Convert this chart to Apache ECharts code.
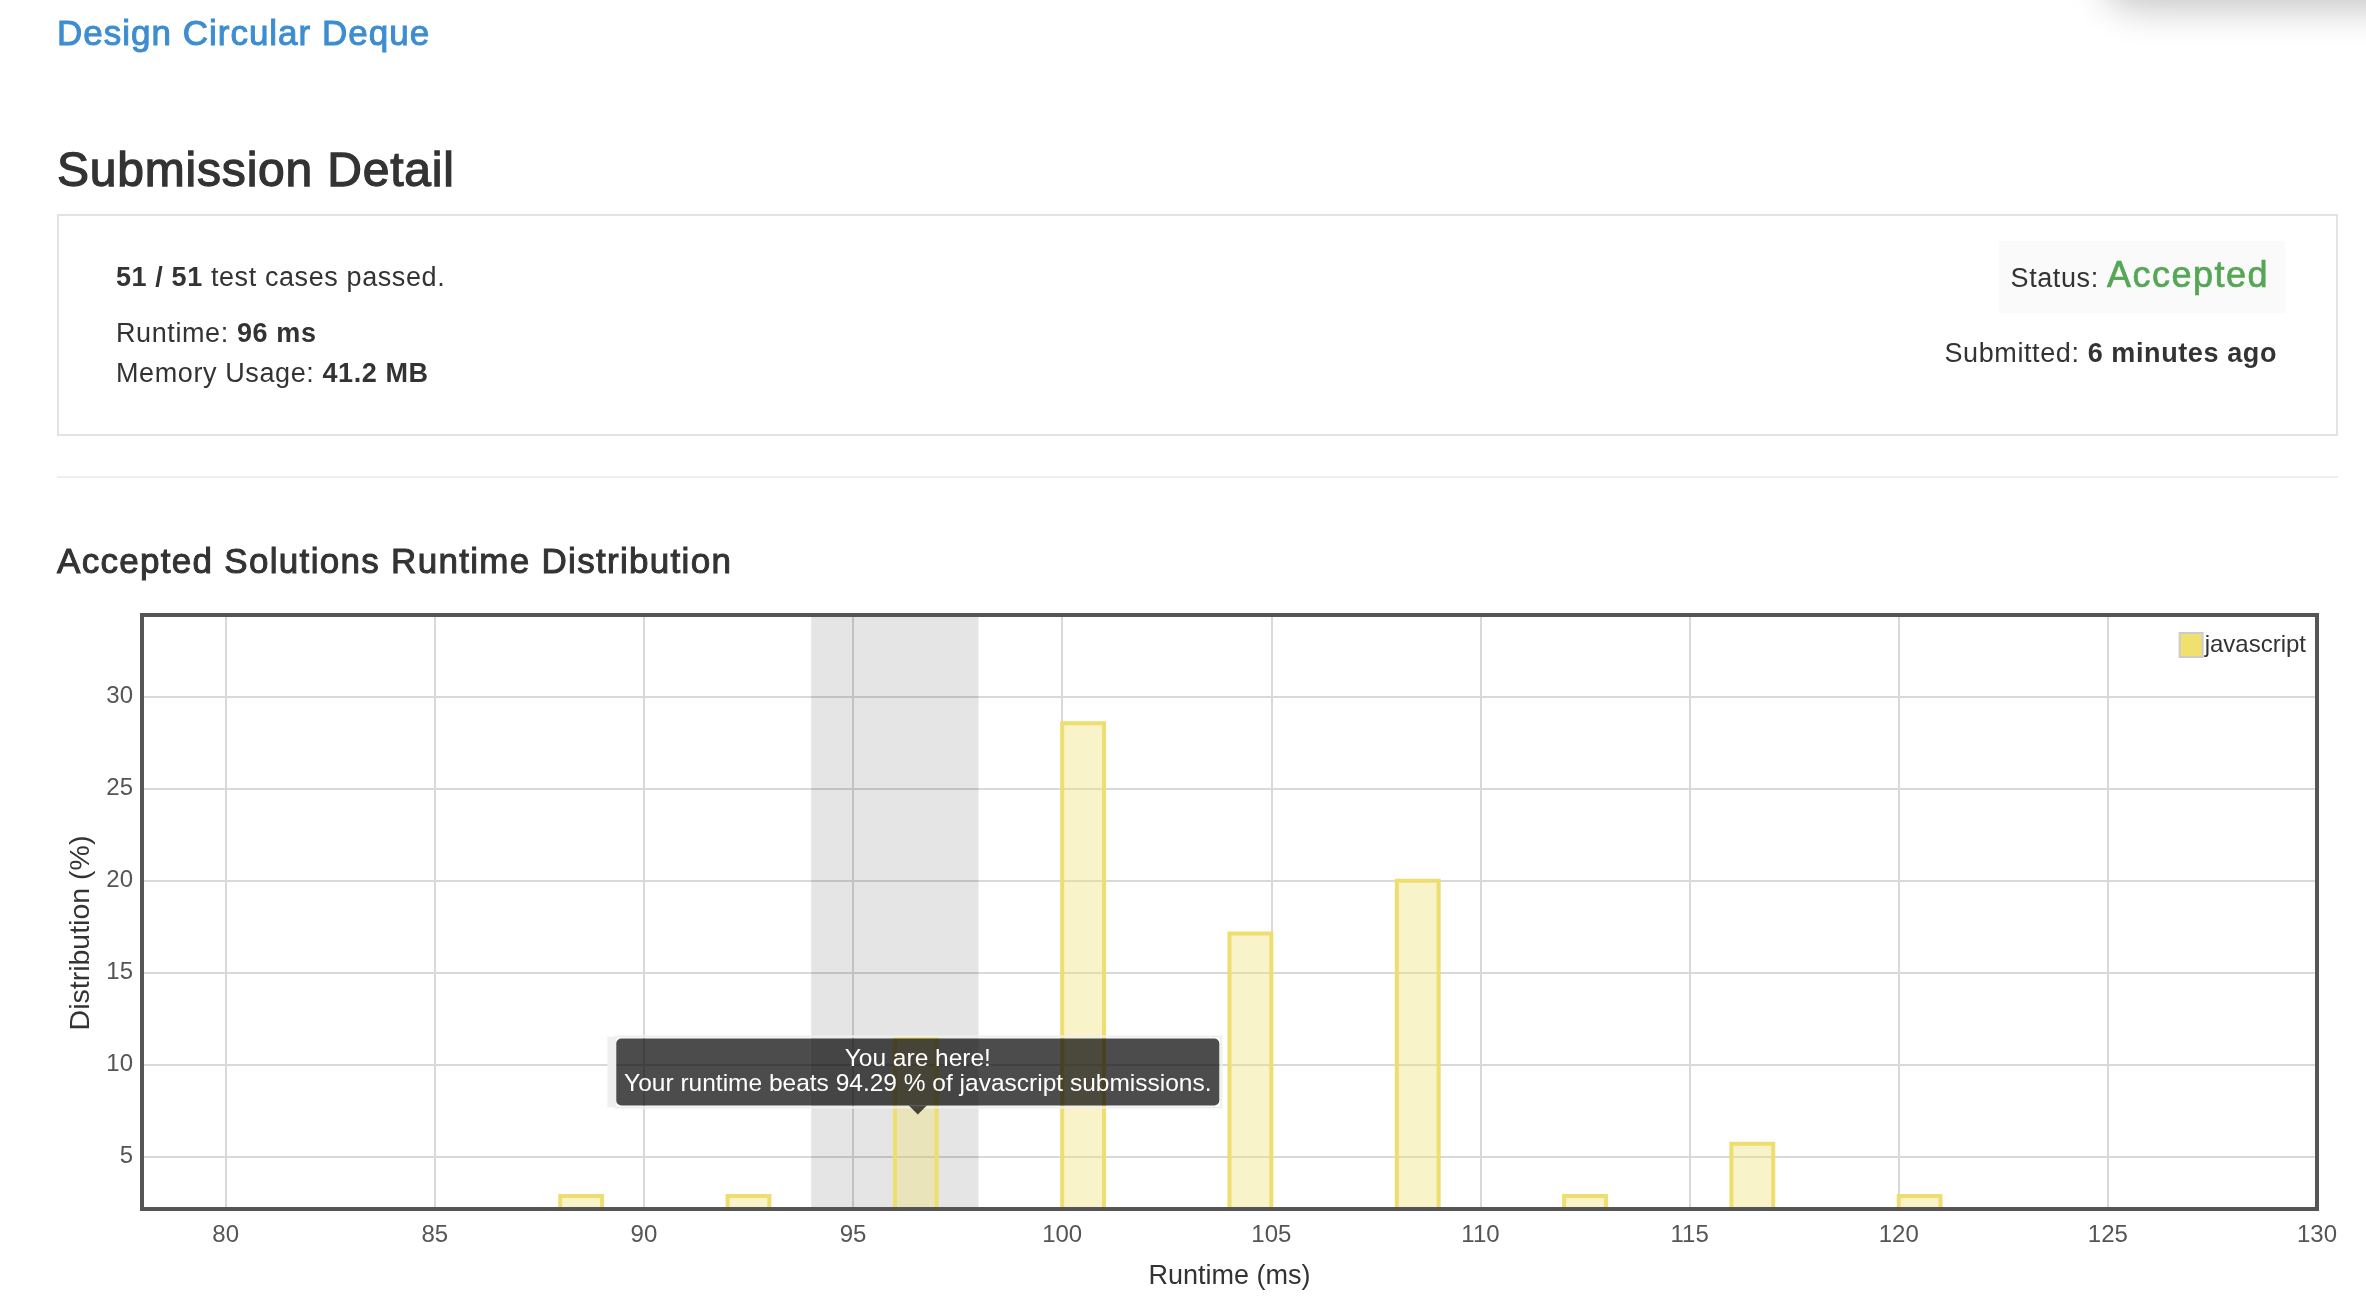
<!DOCTYPE html>
<html>
<head>
<meta charset="utf-8">
<script src="https://cdn.jsdelivr.net/npm/echarts@6/dist/echarts.min.js"></script>
<style>
  html, body { margin: 0; padding: 0; background: #fff; }
  body { width: 2366px; height: 1310px; position: relative; overflow: hidden;
         font-family: "Liberation Sans", Helvetica, Arial, sans-serif; color: #333; }
  #chart { position: absolute; left: 0; top: 0; width: 2366px; height: 1310px; }
  .t { position: absolute; white-space: nowrap; }
  .hd { -webkit-text-stroke: 1px currentColor; }
  .h-link { left: 57px; top: 15px; font-size: 35px; line-height: 35px; color: #3d8dd0; letter-spacing: 1px; }
  .h-sub { left: 57px; top: 146px; font-size: 48px; line-height: 48px; letter-spacing: 0.8px; -webkit-text-stroke: 1.3px currentColor; }
  .h-chart { left: 57px; top: 543px; font-size: 35px; line-height: 35px; letter-spacing: 1.3px; }
  .box { position: absolute; left: 57px; top: 214px; width: 2277px; height: 218px; border: 2px solid #e3e3e3; }
  .line { font-size: 27px; line-height: 27px; left: 116px; letter-spacing: 0.6px; }
  .status-bg { position: absolute; left: 1999px; top: 241px; width: 286px; height: 72px; background: #fafafa; }
  .status { right: 97px; top: 257px; font-size: 27px; line-height: 36px; letter-spacing: 0.6px; }
  .status .acc { font-size: 36px; color: #55a655; letter-spacing: 1.5px; -webkit-text-stroke: 0.7px currentColor; }
  .submitted { right: 89px; top: 340px; font-size: 27px; line-height: 27px; letter-spacing: 0.6px; }
  .hr { position: absolute; left: 57px; top: 476px; width: 2281px; height: 2px; background: #eeeeee; }
  .shadow { position: absolute; left: 2100px; top: -82px; width: 440px; height: 80px; border-radius: 50px;
            box-shadow: 0 12px 36px rgba(0,0,0,0.22); background: #fff; }
</style>
</head>
<body>
<div id="chart"></div>
<div class="shadow"></div>
<div class="t hd h-link">Design Circular Deque</div>
<div class="t h-sub">Submission Detail</div>
<div class="box"></div>
<div class="t line" style="top:264px"><b>51 / 51</b> test cases passed.</div>
<div class="t line" style="top:320px">Runtime: <b>96 ms</b></div>
<div class="t line" style="top:360px">Memory Usage: <b>41.2 MB</b></div>
<div class="status-bg"></div>
<div class="t status">Status: <span class="acc">Accepted</span></div>
<div class="t submitted">Submitted: <b>6 minutes ago</b></div>
<div class="hr"></div>
<div class="t hd h-chart">Accepted Solutions Runtime Distribution</div>
<script>
// ---- data ----
const binStart = [88, 92, 96, 100, 104, 108, 112, 116, 120];
const binEnd   = [89, 93, 97, 101, 105, 109, 113, 117, 121];
const distribution = [2.86, 2.86, 11.43, 28.57, 17.14, 20.0, 2.86, 5.71, 2.86];
const xTicks = [80, 85, 90, 95, 100, 105, 110, 115, 120, 125, 130];
const yTicks = [5, 10, 15, 20, 25, 30];
const highlightRange = [94, 98];
const yourBinIndex = 2;
const seriesName = 'javascript';
const tipLines = ['You are here!', 'Your runtime beats 94.29 % of javascript submissions.'];

const X_MIN = 78, X_MAX = 130;
const Y_MIN = 2.16, Y_MAX = 34.45;

const FONT = '"Liberation Sans", Helvetica, Arial, sans-serif';
const barData = binStart.map((s, i) => [s, binEnd[i], distribution[i]]);
const tipData = [[(binStart[yourBinIndex] + binEnd[yourBinIndex]) / 2, distribution[yourBinIndex]]];

function renderBar(params, api) {
  const x0 = api.value(0), x1 = api.value(1), v = api.value(2);
  const tl = api.coord([x0, v]);
  const br = api.coord([x1, Y_MIN]);
  return {
    type: 'group',
    children: [
      { type: 'rect', shape: { x: tl[0], y: tl[1], width: br[0] - tl[0], height: br[1] - tl[1] },
        style: { fill: 'rgba(240,225,120,0.4)' } },
      { type: 'polyline', shape: { points: [[tl[0], br[1]], [tl[0], tl[1]], [br[0], tl[1]], [br[0], br[1]]] },
        style: { stroke: '#eedd6f', lineWidth: 4, fill: 'none' } }
    ]
  };
}

function renderBand(params, api) {
  const tl = api.coord([api.value(0), Y_MAX]);
  const br = api.coord([api.value(1), Y_MIN]);
  return { type: 'rect', shape: { x: tl[0], y: tl[1], width: br[0] - tl[0], height: br[1] - tl[1] },
           style: { fill: 'rgba(0,0,0,0.1)' } };
}

function renderTip(params, api) {
  const p = api.coord([api.value(0), api.value(1)]);
  const w = 603, h = 67;
  const cx = p[0] + 2;
  const x = cx - w / 2, y = p[1];
  return {
    type: 'group',
    children: [
      { type: 'rect', shape: { x: x - 9, y: y - 2, width: 9, height: h + 4 }, style: { fill: '#efefef' } },
      { type: 'rect', shape: { x: x - 1, y: y - 2, width: w + 3, height: h + 4 },
        style: { fill: 'none', stroke: '#efefef', lineWidth: 2 } },
      { type: 'rect', shape: { x: x, y: y, width: w, height: h, r: 5 }, style: { fill: 'rgba(0,0,0,0.7)' } },
      { type: 'polygon', shape: { points: [[cx - 9, y + h], [cx + 9, y + h], [cx, y + h + 9]] },
        style: { fill: 'rgba(0,0,0,0.7)' } },
      { type: 'text', x: cx, y: y + h / 2,
        style: { text: tipLines.join('\n'), fill: '#ffffff', font: '24.5px ' + FONT,
                 align: 'center', verticalAlign: 'middle', lineHeight: 25 } }
    ]
  };
}

const chart = echarts.init(document.getElementById('chart'), null, { renderer: 'canvas' });
chart.setOption({
  animation: false,
  textStyle: { fontFamily: FONT },
  grid: { left: 142, right: 49, top: 615, bottom: 101, show: true, borderColor: '#555555', borderWidth: 4,
          backgroundColor: 'transparent', z: 10 },
  legend: {
    right: 55, top: 627, itemWidth: 23, itemHeight: 24, itemGap: 0, selectedMode: false,
    data: [{ name: seriesName, icon: 'rect',
             itemStyle: { color: '#f0e070', borderColor: '#cccccc', borderWidth: 2 } }],
    textStyle: { fontSize: 24, color: '#333333', fontFamily: FONT, padding: [0, 0, 0, -3] }
  },
  xAxis: {
    type: 'value', min: X_MIN, max: X_MAX,
    name: 'Runtime (ms)', nameLocation: 'middle', nameGap: 54,
    nameTextStyle: { fontSize: 27, color: '#333333', fontFamily: FONT },
    axisLine: { show: false },
    axisTick: { show: false, customValues: xTicks },
    axisLabel: { customValues: xTicks, fontSize: 24, color: '#555555', margin: 14, fontFamily: FONT },
    splitLine: { show: true, lineStyle: { color: '#d9d9d9', width: 2 } }
  },
  yAxis: {
    type: 'value', min: Y_MIN, max: Y_MAX,
    name: 'Distribution (%)', nameLocation: 'middle', nameGap: 42,
    nameTextStyle: { fontSize: 28.5, color: '#333333', fontFamily: FONT, padding: [0, 42, 0, 0] },
    axisLine: { show: false },
    axisTick: { show: false, customValues: yTicks },
    axisLabel: { customValues: yTicks, fontSize: 24, color: '#555555', margin: 9, fontFamily: FONT },
    splitLine: { show: true, lineStyle: { color: '#d9d9d9', width: 2 } }
  },
  series: [
    { type: 'custom', name: 'band', renderItem: renderBand, data: [highlightRange], z: 1, silent: true,
      encode: { x: [0, 1] } },
    { type: 'custom', name: seriesName, renderItem: renderBar, data: barData, z: 2, clip: true,
      itemStyle: { color: '#f0e070' }, encode: { x: [0, 1], y: 2 } },
    { type: 'custom', name: 'tip', renderItem: renderTip, data: tipData, z: 20, silent: true,
      encode: { x: 0, y: 1 } }
  ]
});
</script>
</body>
</html>
